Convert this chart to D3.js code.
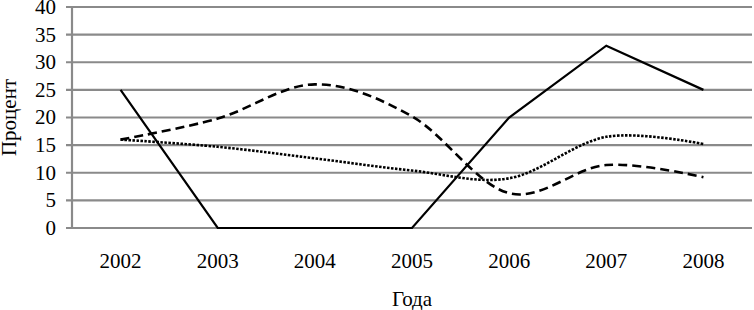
<!DOCTYPE html>
<html><head><meta charset="utf-8">
<script src="https://cdn.jsdelivr.net/npm/d3@7"></script>
<style>body{margin:0;background:#fff}svg{display:block}text{font-family:"Liberation Serif","Times New Roman",serif;fill:#000}</style>
</head><body><svg id="c" width="754" height="310"></svg>
<script>
const years = ["2002","2003","2004","2005","2006","2007","2008"];
const solidSeries = [25, 0, 0, 0, 20, 33, 25];
const dashedSeries = [16, 19.8, 26, 20.2, 6.3, 11.4, 9.2];
const dottedSeries = [16, 14.7, 12.6, 10.4, 9.0, 16.5, 15.2];
const yTicks = [0, 5, 10, 15, 20, 25, 30, 35, 40];

const svg = d3.select("#c");
const pLeft = 72, pRight = 752, pTop = 7, pBottom = 228;
const x = d3.scaleBand().domain(years).range([pLeft, pRight]);
const y = d3.scaleLinear().domain([0, 40]).range([pBottom, pTop]);
const cx = d => x(d) + x.bandwidth() / 2;

// gridlines
svg.append("g").selectAll("line").data(yTicks).join("line")
  .attr("x1", pLeft - 6).attr("x2", pRight)
  .attr("y1", d => y(d)).attr("y2", d => y(d))
  .attr("stroke", "#8a8a8a").attr("stroke-width", 2.2);
// y axis line
svg.append("line").attr("x1", pLeft).attr("x2", pLeft).attr("y1", y(40)).attr("y2", y(0))
  .attr("stroke", "#8a8a8a").attr("stroke-width", 2.2);

// y labels
svg.append("g").selectAll("text").data(yTicks).join("text")
  .attr("x", 56).attr("y", d => y(d)).attr("dy", "0.33em")
  .attr("text-anchor", "end").attr("font-size", 21).text(d => d);
// x labels
svg.append("g").selectAll("text").data(years).join("text")
  .attr("x", d => cx(d)).attr("y", 268).attr("text-anchor", "middle")
  .attr("font-size", 21).text(d => d);
// titles
svg.append("text").attr("x", (pLeft + pRight) / 2).attr("y", 306).attr("text-anchor", "middle")
  .attr("font-size", 21).text("Года");
svg.append("text").attr("transform", `translate(16,${(pTop + pBottom) / 2}) rotate(-90)`)
  .attr("text-anchor", "middle").attr("font-size", 21).text("Процент");

const pts = arr => arr.map((v, i) => [cx(years[i]), y(v)]);
const straight = d3.line();
const smooth = d3.line().curve(d3.curveCardinal.tension(0));

svg.append("path").attr("d", smooth(pts(dottedSeries))).attr("fill", "none")
  .attr("stroke", "#000").attr("stroke-width", 2.6).attr("stroke-dasharray", "2.5,1.5");
svg.append("path").attr("d", smooth(pts(dashedSeries))).attr("fill", "none")
  .attr("stroke", "#000").attr("stroke-width", 2.6).attr("stroke-dasharray", "9,5");
svg.append("path").attr("d", straight(pts(solidSeries))).attr("fill", "none")
  .attr("stroke", "#000").attr("stroke-width", 2.2).attr("stroke-linejoin", "miter");
</script></body></html>
